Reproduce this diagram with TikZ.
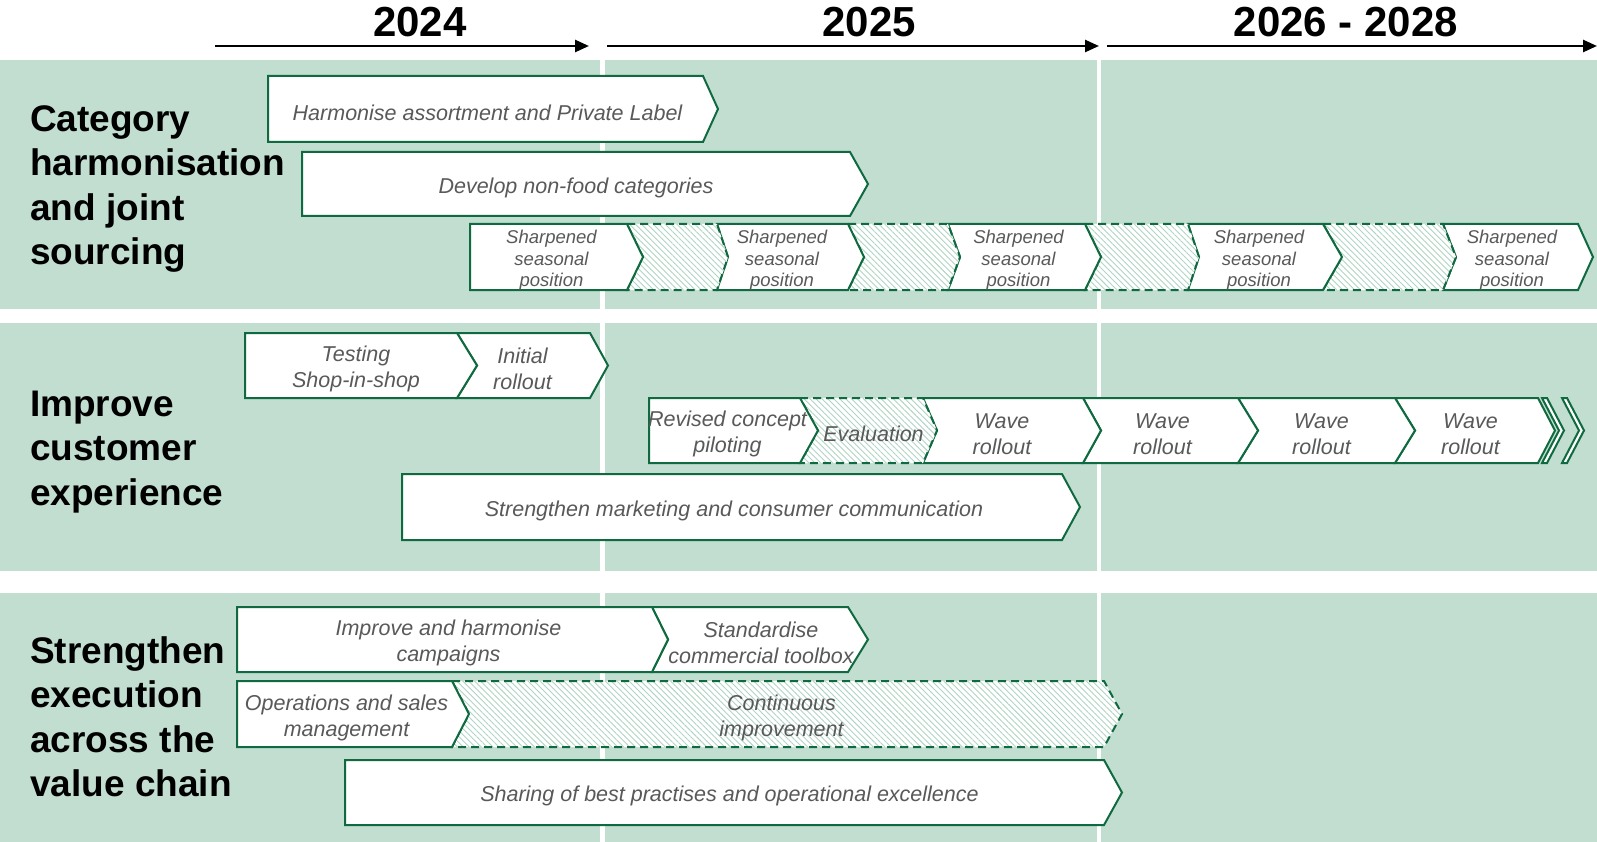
\documentclass[tikz,border=0pt]{standalone}
\usepackage{fontspec}
\setmainfont{Liberation Sans}
\usetikzlibrary{arrows.meta,patterns.meta}

\definecolor{band}{RGB}{194,222,209}
\definecolor{edge}{RGB}{16,106,64}
\definecolor{hatch}{RGB}{176,213,196}
\definecolor{label}{RGB}{89,89,89}

% #1 shape style, #2 name, #3 left x, #4 right corner x, #5 top y, #6 bottom y,
% #7 notch depth, #8 tip depth, #9 text
\newcommand\chevron[9]{%
  \path[#1] (#3,#5) -- (#4,#5) -- ({#4+#8},{(#5+#6)/2}) -- (#4,#6) -- (#3,#6)
    -- ({#3+#7},{(#5+#6)/2}) -- cycle;
  \node[chevtext, chevtext extra, chev #2/.try] (#2) at ({(#3+#7+#4)/2},{(#5+#6)/2}) {#9};}

\tikzset{
  solidchev/.style={fill=white, draw=edge, line width=2pt, line join=miter},
  hatchchev/.style={preaction={fill=white},
    pattern={Lines[angle=-45,distance=4.2pt,line width=0.9pt]}, pattern color=hatch,
    draw=edge, line width=2pt, dash pattern=on 8pt off 5pt, line join=miter},
  chevtext/.style={font=\fontsize{21.5}{26}\selectfont\itshape, text=label,
    align=center, inner sep=0pt, yshift=-3.5pt},
  chevtext extra/.style={},
  smalltext/.style={chevtext extra/.style={font=\fontsize{18.5}{21.5}\selectfont\itshape}},
  heading/.style={font=\fontsize{37}{44.5}\selectfont\bfseries, align=left,
    inner sep=0pt, anchor=west},
  yearlabel/.style={font=\fontsize{42}{48}\selectfont\bfseries, inner sep=0pt},
  yeararrow/.style={line width=2.5pt, -{Triangle[length=14pt,width=12pt]}},
  % text offsets within individual chevrons
  chev harm/.style={xshift=2pt},
  chev sea1/.style={xshift=3pt},
  chev sea2/.style={xshift=-6pt},
  chev sea3/.style={xshift=-4pt},
  chev sea4/.style={xshift=-2pt},
  chev sea5/.style={xshift=-5pt},
  chev testing/.style={xshift=5pt},
  chev initial/.style={xshift=-11pt},
  chev pilot/.style={xshift=3pt},
  chev eval/.style={xshift=3pt},
  chev wave1/.style={xshift=-8pt},
  chev wave2/.style={xshift=-7pt},
  chev wave3/.style={xshift=-5pt},
  chev wave4/.style={xshift=-6pt},
  chev marketing/.style={xshift=2pt},
  chev toolbox/.style={xshift=3pt},
  chev campaigns/.style={xshift=4pt},
  chev opsales/.style={xshift=2pt},
  chev contimp/.style={xshift=-5pt},
  chev bestprac/.style={xshift=5pt},
}

\begin{document}
\begin{tikzpicture}[x=1pt,y=-1pt]
\useasboundingbox (0,0) rectangle (1597,842);

% theme bands
\fill[band] (0,60) rectangle (1597,309);
\fill[band] (0,323) rectangle (1597,571);
\fill[band] (0,593) rectangle (1597,842);

% year separators
\fill[white] (600,60) rectangle (605,842);
\fill[white] (1097,60) rectangle (1101,842);

% timeline
\coordinate (t1s) at (215,46); \coordinate (t1e) at (589,46);
\coordinate (t2s) at (607,46); \coordinate (t2e) at (1099,46);
\coordinate (t3s) at (1107,46); \coordinate (t3e) at (1597,46);
\draw[yeararrow] (t1s) -- (t1e);
\draw[yeararrow] (t2s) -- (t2e);
\draw[yeararrow] (t3s) -- (t3e);
\node[yearlabel] (y2024) at (420,22) {2024};
\node[yearlabel] (y2025) at (869,22) {2025};
\node[yearlabel] (y2026) at (1346,22) {2026 - 2028};

% theme headings
\node[heading] (hcat) at (30,189) {Category\\harmonisation\\and joint\\sourcing};
\node[heading] (hcust) at (30,452) {Improve\\customer\\experience};
\node[heading] (hexec) at (30,717) {Strengthen\\execution\\across the\\value chain};

% category harmonisation and joint sourcing
\chevron{solidchev}{harm}{268}{703}{76}{142}{0}{15}{Harmonise assortment and Private Label}
\chevron{solidchev}{nonfood}{302}{850}{152}{216}{0}{18}{Develop non-food categories}
\begin{scope}[smalltext]
\chevron{solidchev}{sea5}{1443}{1578}{224}{290}{13}{15}{Sharpened\\seasonal\\position}
\chevron{hatchchev}{gap4}{1323}{1443}{224}{290}{19}{13}{}
\chevron{solidchev}{sea4}{1188}{1323}{224}{290}{11}{19}{Sharpened\\seasonal\\position}
\chevron{hatchchev}{gap3}{1085}{1188}{224}{290}{16}{11}{}
\chevron{solidchev}{sea3}{948}{1085}{224}{290}{12}{16}{Sharpened\\seasonal\\position}
\chevron{hatchchev}{gap2}{848}{948}{224}{290}{16}{12}{}
\chevron{solidchev}{sea2}{717}{848}{224}{290}{11}{16}{Sharpened\\seasonal\\position}
\chevron{hatchchev}{gap1}{627}{717}{224}{290}{16}{11}{}
\chevron{solidchev}{sea1}{470}{627}{224}{290}{0}{16}{Sharpened\\seasonal\\position}
\end{scope}

% improve customer experience
\chevron{solidchev}{initial}{457}{590}{333}{398}{20}{18}{Initial\\rollout}
\chevron{solidchev}{testing}{245}{457}{333}{398}{0}{20}{Testing\\Shop-in-shop}
\chevron{solidchev}{more2}{1562}{1567}{398}{463}{17}{17}{}
\chevron{solidchev}{more1}{1542}{1547}{398}{463}{17}{17}{}
\chevron{solidchev}{wave4}{1395}{1538}{398}{463}{20}{17}{Wave\\rollout}
\chevron{solidchev}{wave3}{1238}{1395}{398}{463}{20}{20}{Wave\\rollout}
\chevron{solidchev}{wave2}{1083}{1238}{398}{463}{18}{20}{Wave\\rollout}
\chevron{solidchev}{wave1}{923}{1083}{398}{463}{14}{18}{Wave\\rollout}
\chevron{hatchchev}{eval}{800}{923}{398}{463}{18}{14}{Evaluation}
\chevron{solidchev}{pilot}{649}{800}{398}{463}{0}{18}{Revised concept\\piloting}
\chevron{solidchev}{marketing}{402}{1062}{474}{540}{0}{18}{Strengthen marketing and consumer communication}

% strengthen execution across the value chain
\chevron{solidchev}{toolbox}{652}{848}{607}{672}{16}{20}{Standardise\\commercial toolbox}
\chevron{solidchev}{campaigns}{237}{652}{607}{672}{0}{16}{Improve and harmonise\\campaigns}
\chevron{hatchchev}{contimp}{452}{1104}{681}{747}{17}{18}{Continuous\\improvement}
\chevron{solidchev}{opsales}{237}{452}{681}{747}{0}{17}{Operations and sales\\management}
\chevron{solidchev}{bestprac}{345}{1104}{760}{825}{0}{18}{Sharing of best practises and operational excellence}
\end{tikzpicture}
\end{document}
